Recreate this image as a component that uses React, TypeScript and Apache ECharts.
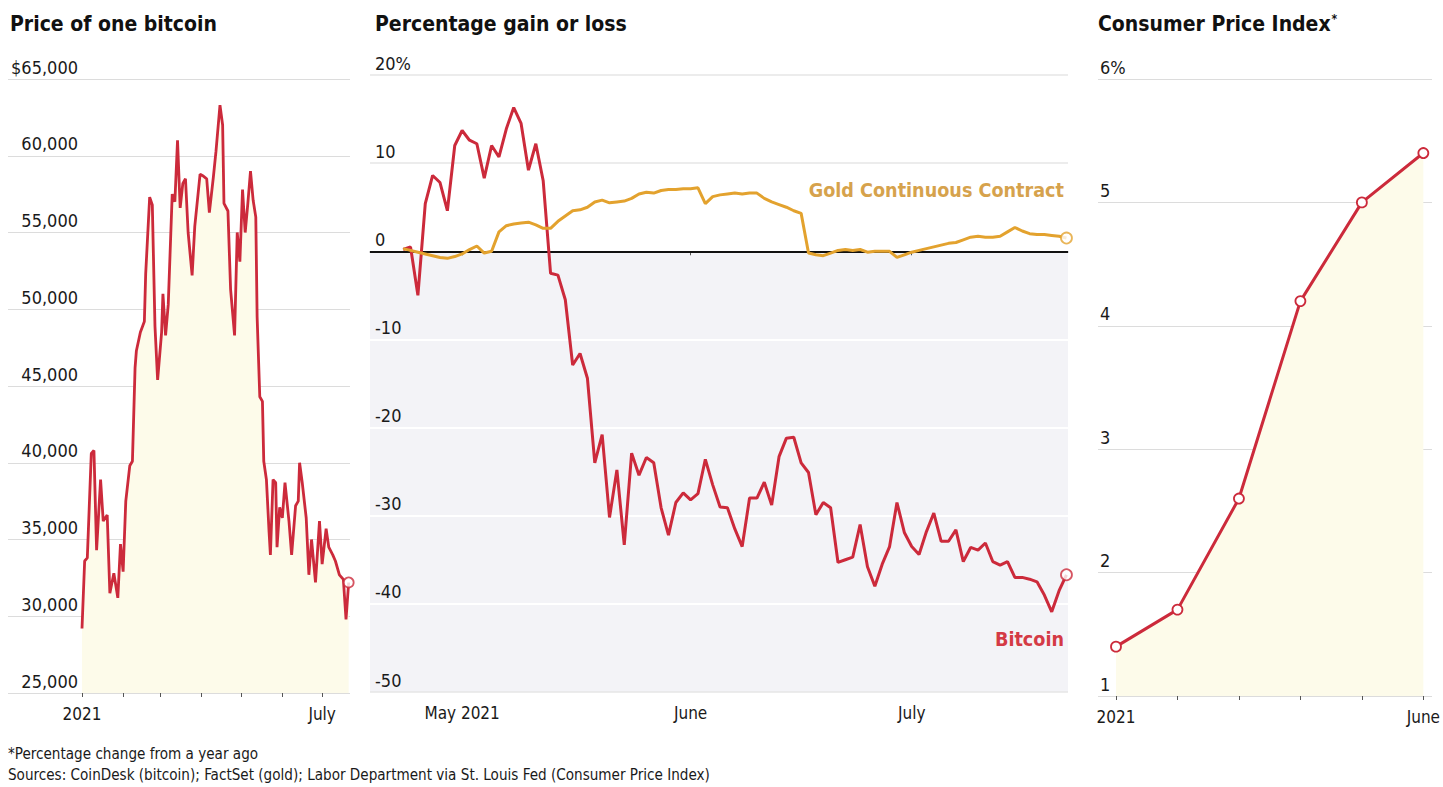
import React, { useEffect, useRef } from 'react';
import * as echarts from 'echarts';

const FONT = '"Liberation Sans Narrow", "DejaVu Sans Condensed", Roboto, sans-serif';
const RED = '#cc2a3b';
const GOLD = '#e3a22e';
const GOLD_TEXT = '#d6a24c';
const CREAM = '#fdfbea';
const GRID = '#dcdcdc';
const TEXT = '#1a1a1a';

// ---- Panel 1: price of one bitcoin (day offset from Jan 1, 2021) ----
const btcDays = [0, 2, 4, 7, 9, 11, 14, 16, 19, 21, 24, 27, 29, 31, 33, 36, 38, 40, 41, 44, 47, 48, 51, 53, 55, 57, 60, 61, 63, 65, 68, 70, 72, 74, 76, 78, 80, 83, 85, 89, 91, 94, 96, 99, 101, 104, 106, 107, 110, 112, 115, 117, 119, 121, 123, 125, 127, 129, 131, 132, 134, 136, 137, 139, 141, 142, 144, 146, 147, 149, 151, 153, 156, 158, 161, 163, 164, 166, 169, 171, 173, 176, 179, 181, 184, 186, 189, 191, 194, 197, 199, 201];
const btcPrice = [29200, 33600, 33800, 40600, 40800, 34300, 38900, 36200, 36600, 31500, 32800, 31200, 34700, 32900, 37500, 39800, 40100, 46200, 47300, 48500, 49200, 52300, 57300, 56800, 48900, 45400, 48500, 51000, 48300, 50300, 57500, 57000, 61000, 56600, 58200, 58500, 55000, 52200, 55400, 58800, 58700, 58500, 56300, 58600, 60300, 63300, 62000, 56900, 56400, 51300, 48300, 55000, 53100, 57800, 55000, 56900, 59000, 57100, 56000, 49500, 44300, 44000, 40100, 38900, 35500, 34000, 38900, 38700, 34500, 37100, 36400, 38700, 36200, 34000, 37200, 37500, 40000, 38700, 36400, 32700, 35000, 32200, 36200, 33400, 35700, 34500, 34000, 33600, 32700, 32400, 29800, 32200];
const btcTickMonths = [0, 1, 2, 3, 4, 5, 6];
const btcLabelMonths: Record<number, string> = { 0: '2021', 6: 'July' };

// ---- Panel 2: percentage gain or loss, daily from Apr 23, 2021 ----
const pctStart = [2021, 3, 23];
const bitcoinPct = [0.2, 0.5, -5.0, 5.4, 8.6, 7.8, 4.6, 12.0, 13.7, 12.6, 12.2, 8.3, 12.0, 10.7, 13.9, 16.3, 14.5, 9.2, 12.2, 8.0, -2.5, -2.7, -5.5, -12.9, -11.6, -14.4, -24.0, -20.8, -30.2, -24.8, -33.3, -22.9, -25.4, -23.4, -24.0, -29.1, -32.2, -28.5, -27.4, -28.2, -27.5, -23.6, -26.5, -29.0, -29.1, -31.5, -33.5, -28.0, -28.0, -26.2, -28.8, -23.3, -21.2, -21.1, -24.0, -25.1, -29.9, -28.5, -29.1, -35.3, -35.0, -34.7, -31.0, -35.8, -38.0, -35.5, -33.5, -28.5, -31.9, -33.5, -34.4, -31.8, -29.7, -32.9, -32.9, -31.6, -35.2, -33.6, -33.9, -33.1, -35.2, -35.6, -35.2, -37.0, -37.0, -37.2, -37.5, -39.0, -40.9, -38.5, -36.7];
const goldPct = [0.3, 0.1, -0.1, -0.3, -0.5, -0.7, -0.8, -0.6, -0.3, 0.2, 0.6, -0.2, 0.0, 2.2, 2.9, 3.1, 3.2, 3.3, 3.0, 2.6, 2.6, 3.4, 4.0, 4.6, 4.7, 5.0, 5.6, 5.8, 5.5, 5.6, 5.7, 6.0, 6.5, 6.7, 6.6, 6.9, 7.0, 7.0, 7.1, 7.1, 7.2, 5.4, 6.2, 6.4, 6.5, 6.6, 6.5, 6.6, 6.6, 6.0, 5.6, 5.3, 5.0, 4.6, 4.3, -0.2, -0.4, -0.5, -0.2, 0.1, 0.2, 0.1, 0.2, -0.1, 0.0, 0.0, 0.0, -0.7, -0.4, -0.1, 0.1, 0.3, 0.5, 0.7, 0.9, 1.0, 1.3, 1.6, 1.7, 1.6, 1.6, 1.7, 2.2, 2.7, 2.3, 2.0, 1.9, 1.9, 1.8, 1.7, 1.5];
const pctTickMonths = [4, 5, 6];
const pctLabelMonths: Record<number, string> = { 4: 'May 2021', 5: 'June', 6: 'July' };

// ---- Panel 3: consumer price index, % change from a year ago ----
const cpiMonths = ['2021', 'Feb', 'Mar', 'Apr', 'May', 'June'];
const cpiValues = [1.4, 1.7, 2.6, 4.2, 5.0, 5.4];

const day = (y: number, m: number, d: number, h = 0) => Date.UTC(y, m, d, h);

export default function App() {
  const ref = useRef<HTMLDivElement>(null);
  useEffect(() => {
    if (!ref.current) return;
    const chart = echarts.init(ref.current, null, { renderer: 'svg' });

    const btcData = btcDays.map((d, i) => [day(2021, 0, 1 + d), btcPrice[i]]);
    const bitData = bitcoinPct.map((v, i) => [day(pctStart[0], pctStart[1], pctStart[2] + i), v]);
    const goldData = goldPct.map((v, i) => [day(pctStart[0], pctStart[1], pctStart[2] + i), v]);

    const labelStyle = { fontFamily: FONT, fontSize: 18, color: TEXT };
    const xLabelStyle = { fontFamily: FONT, fontSize: 17, color: TEXT };
    const tickStyle = { show: true, length: 4, lineStyle: { color: '#555', width: 1 } };
    const monthOf = (v: number) => new Date(v).getUTCMonth();
    const titleStyle = { fontFamily: FONT, fontSize: 21, fontWeight: 'bold', color: '#111' };

    const endMarker = (color: string) => ({
      color: '#fff', borderColor: color, borderWidth: 1.8,
    });

    chart.setOption({
      animation: false,
      backgroundColor: '#fff',
      textStyle: { fontFamily: FONT },
      title: [
        { text: 'Price of one bitcoin', left: 10, top: 13, padding: 0, textStyle: titleStyle },
        { text: 'Percentage gain or loss', left: 375, top: 13, padding: 0, textStyle: titleStyle },
        {
          text: '{a|Consumer Price Index}{b|*}', left: 1098, top: 13, padding: 0,
          textStyle: {
            rich: {
              a: titleStyle,
              b: { fontFamily: FONT, fontSize: 12, color: '#111', verticalAlign: 'top', padding: [0, 0, 10, 1] },
            },
          },
        },
      ],
      grid: [
        { left: 8, top: 79, width: 342, height: 614 },
        { left: 82, top: 79, width: 268, height: 614 },
        { left: 370, top: 75, width: 698, height: 617 },
        { left: 1098, top: 79, width: 334, height: 617 },
        { left: 1116, top: 79, width: 308, height: 617 },
      ],
      xAxis: [
        { gridIndex: 0, type: 'value', show: false, min: 0, max: 1 },
        {
          gridIndex: 1, type: 'value', min: day(2021, 0, 1), max: day(2021, 6, 22),
          axisLine: { show: false }, splitLine: { show: false },
          axisTick: { ...tickStyle, customValues: btcTickMonths.map((m) => day(2021, m, 1)) },
          axisLabel: {
            ...xLabelStyle, margin: 12,
            customValues: Object.keys(btcLabelMonths).map((m) => day(2021, Number(m), 1)),
            formatter: (v: number) => btcLabelMonths[monthOf(v)] ?? '',
          },
        },
        {
          gridIndex: 2, type: 'value', min: day(2021, 3, 18, 12), max: day(2021, 6, 22, 5), z: 2,
          axisLine: { show: true, lineStyle: { color: '#cfcfcf', width: 2 } }, splitLine: { show: false },
          axisTick: { ...tickStyle, customValues: pctTickMonths.map((m) => day(2021, m, 1)) },
          axisLabel: {
            ...xLabelStyle, margin: 12,
            customValues: pctTickMonths.map((m) => day(2021, m, 1)),
            formatter: (v: number) => pctLabelMonths[monthOf(v)] ?? '',
          },
        },
        { gridIndex: 3, type: 'value', show: false, min: 0, max: 1 },
        {
          gridIndex: 4, type: 'category', data: cpiMonths, boundaryGap: false,
          axisLine: { show: false },
          axisTick: { ...tickStyle, interval: 0 },
          axisLabel: {
            ...xLabelStyle, margin: 12,
            interval: (i: number) => i === 0 || i === cpiMonths.length - 1,
          },
        },
      ],
      yAxis: [
        {
          gridIndex: 0, type: 'value', min: 25000, max: 65000, interval: 5000,
          axisLine: { show: false }, axisTick: { show: false },
          splitLine: { lineStyle: { color: GRID, width: 1 } },
          axisLabel: {
            ...labelStyle, inside: true, margin: 70, align: 'right', verticalAlign: 'bottom', padding: [0, 0, 3, 0],
            formatter: (v: number) => (v === 65000 ? '$' : '') + v.toLocaleString('en-US'),
          },
        },
        { gridIndex: 1, type: 'value', min: 25000, max: 65000, show: false },
        {
          gridIndex: 2, type: 'value', min: -50, max: 20, interval: 10, z: 2,
          axisLine: { show: false }, axisTick: { show: false },
          splitLine: { lineStyle: { color: '#e6e6e6', width: 1.5 } },
          axisLabel: {
            ...labelStyle, inside: true, margin: 5, align: 'left', verticalAlign: 'bottom', padding: [0, 0, 3, 0],
            formatter: (v: number) => (v === 20 ? '20%' : String(v)),
          },
        },
        {
          gridIndex: 3, type: 'value', min: 1, max: 6, interval: 1,
          axisLine: { show: false }, axisTick: { show: false },
          splitLine: { lineStyle: { color: GRID, width: 1 } },
          axisLabel: {
            ...labelStyle, inside: true, margin: 2, align: 'left', verticalAlign: 'bottom', padding: [0, 0, 3, 0],
            formatter: (v: number) => (v === 6 ? '6%' : String(v)),
          },
        },
        { gridIndex: 4, type: 'value', min: 1, max: 6, show: false },
      ],
      series: [
        {
          type: 'line', xAxisIndex: 1, yAxisIndex: 1, data: btcData, symbol: 'none',
          lineStyle: { color: RED, width: 2.8 },
          areaStyle: { color: CREAM, origin: 'start', opacity: 1 },
          z: 3,
        },
        {
          type: 'scatter', xAxisIndex: 1, yAxisIndex: 1, data: [btcData[btcData.length - 1]],
          symbol: 'circle', symbolSize: 10, itemStyle: endMarker(RED), z: 6,
        },
        {
          type: 'line', xAxisIndex: 2, yAxisIndex: 2, data: goldData, symbol: 'none',
          lineStyle: { color: GOLD, width: 3 }, z: 4,
          markArea: {
            silent: true, z: 1,
            itemStyle: { color: '#f3f3f7' },
            data: [[{ yAxis: 0 }, { yAxis: -50 }]],
          },
          markLine: {
            silent: true, z: 2.5, symbol: ['none', 'none'], label: { show: false },
            lineStyle: { color: '#ffffff', width: 2, type: 'solid' },
            data: [
              { yAxis: -10 }, { yAxis: -20 }, { yAxis: -30 }, { yAxis: -40 },
              { yAxis: 0, lineStyle: { color: '#111', width: 2, type: 'solid' } },
            ],
          },
        },
        {
          type: 'line', xAxisIndex: 2, yAxisIndex: 2, data: bitData, symbol: 'none',
          lineStyle: { color: RED, width: 3 }, z: 3,
        },
        {
          type: 'scatter', xAxisIndex: 2, yAxisIndex: 2, data: [bitData[bitData.length - 1]],
          symbol: 'circle', symbolSize: 11, itemStyle: endMarker(RED), z: 6,
        },
        {
          type: 'scatter', xAxisIndex: 2, yAxisIndex: 2, data: [goldData[goldData.length - 1]],
          symbol: 'circle', symbolSize: 11, itemStyle: endMarker(GOLD), z: 6,
        },
        {
          type: 'line', xAxisIndex: 4, yAxisIndex: 4, data: cpiValues,
          symbol: 'circle', symbolSize: 10, showSymbol: true,
          lineStyle: { color: RED, width: 3 },
          itemStyle: { color: '#fff', borderColor: RED, borderWidth: 1.8 },
          areaStyle: { color: CREAM, origin: 'start', opacity: 1 },
          z: 3,
        },
      ],
      graphic: [
        {
          type: 'text', right: 1443 - 1064, top: 180, z: 100,
          style: { text: 'Gold Continuous Contract', fill: GOLD_TEXT, font: `bold 19.6px ${FONT}` },
        },
        {
          type: 'text', right: 1443 - 1064, top: 629, z: 100,
          style: { text: 'Bitcoin', fill: '#d43a45', font: `bold 19.6px ${FONT}` },
        },
        {
          type: 'text', left: 8, top: 746, z: 100,
          style: { text: '*Percentage change from a year ago', fill: TEXT, font: `15.1px ${FONT}` },
        },
        {
          type: 'text', left: 8, top: 767, z: 100,
          style: { text: 'Sources: CoinDesk (bitcoin); FactSet (gold); Labor Department via St. Louis Fed (Consumer Price Index)', fill: TEXT, font: `15.1px ${FONT}` },
        },
      ],
    });
    return () => chart.dispose();
  }, []);

  return (
    <div
      ref={ref}
      style={{ position: 'fixed', left: 0, top: 0, width: 1443, height: 787, background: '#fff' }}
    />
  );
}
